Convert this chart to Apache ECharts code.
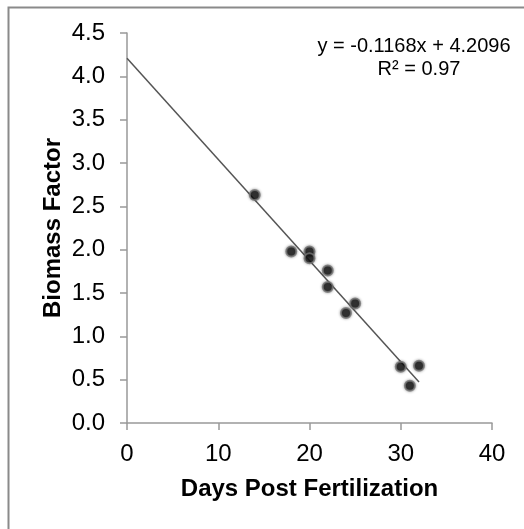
<!DOCTYPE html>
<html><head><meta charset="utf-8">
<script src="https://cdn.jsdelivr.net/npm/echarts@6/dist/echarts.min.js"></script>
<style>html,body{margin:0;padding:0;background:#fff}#c{width:524px;height:529px}</style>
</head><body><div id="c"></div>
<script>
const days = [14, 18, 20, 20, 22, 22, 25, 24, 30, 32, 31];
const biomass = [2.63, 1.98, 1.98, 1.90, 1.76, 1.57, 1.38, 1.27, 0.65, 0.66, 0.43];
const slope = -0.1168, intercept = 4.2096;
const trendX = [0, 32];
const eqText = ['y = -0.1168x + 4.2096', 'R² = 0.97'];
const xTitle = 'Days Post Fertilization';
const yTitle = 'Biomass Factor';

const chart = echarts.init(document.getElementById('c'));
const font = '"Liberation Sans", Arial, sans-serif';
chart.setOption({
  animation: false,
  backgroundColor: '#fff',
  grid: {left: 127, right: 32, top: 33, bottom: 106},
  graphic: [
    {type: 'rect', left: 6, top: 5, shape: {width: 540, height: 540}, style: {fill: 'none', stroke: '#8a8a8a', lineWidth: 2}, z: 0},
    {type: 'text', x: 414, y: 46, style: {text: eqText[0], fontFamily: font, fontSize: 20, fill: '#000', align: 'center', verticalAlign: 'middle'}, z: 5},
    {type: 'text', x: 419, y: 69, style: {text: eqText[1], fontFamily: font, fontSize: 20, fill: '#000', align: 'center', verticalAlign: 'middle'}, z: 5}
  ],
  xAxis: {
    type: 'value', min: 0, max: 40, interval: 10,
    name: xTitle, nameLocation: 'middle', nameGap: 54,
    nameTextStyle: {fontFamily: font, fontSize: 24, fontWeight: 'bold', color: '#000'},
    axisLine: {show: true, lineStyle: {color: '#999', width: 1.5}},
    axisTick: {show: true, length: 7, lineStyle: {color: '#999', width: 1.5}},
    axisLabel: {fontFamily: font, fontSize: 24, color: '#000', margin: 19},
    splitLine: {show: false}
  },
  yAxis: {
    type: 'value', min: 0, max: 4.5, interval: 0.5,
    name: yTitle, nameLocation: 'middle', nameGap: 62,
    nameMoveOverlap: false,
    nameTextStyle: {fontFamily: font, fontSize: 24, fontWeight: 'bold', color: '#000'},
    axisLine: {show: true, lineStyle: {color: '#999', width: 1.5}},
    axisTick: {show: true, length: 7, lineStyle: {color: '#999', width: 1.5}},
    axisLabel: {fontFamily: font, fontSize: 24, color: '#000', margin: 22, formatter: v => v.toFixed(1)},
    splitLine: {show: false}
  },
  series: [
    {
      type: 'line', data: trendX.map(x => [x, slope * x + intercept]),
      symbol: 'none', lineStyle: {color: '#555', width: 1.5}, z: 2, silent: true
    },
    {
      type: 'scatter', data: days.map((d, i) => [d, biomass[i]]),
      symbolSize: 10,
      itemStyle: {color: '#111', borderColor: '#777', borderWidth: 2, shadowBlur: 3, shadowColor: 'rgba(0,0,0,0.4)'},
      z: 3
    }
  ]
});
</script></body></html>
